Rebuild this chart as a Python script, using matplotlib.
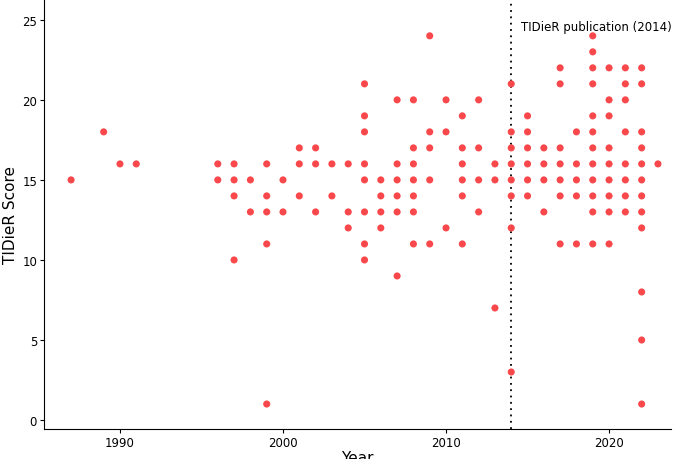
import matplotlib
matplotlib.use("Agg")
import matplotlib.pyplot as plt

data = {
1987:[15],1989:[18],1990:[16],1991:[16],
1996:[16,15],1997:[16,15,14,10],1998:[15,13],1999:[16,14,13,11,1],
2000:[15,13],2001:[17,16,14],2002:[17,16,13],2003:[16,14],2004:[16,13,12],
2005:[21,19,18,16,15,13,11,10],2006:[15,14,13,12],2007:[20,16,15,14,13,9],
2008:[20,17,16,15,14,13,11],2009:[24,18,17,15,11],2010:[20,18,12],
2011:[19,17,16,15,14,11],2012:[20,17,15,13],2013:[16,15,7],
2014:[21,18,17,16,15,14,12,3],2015:[19,18,17,16,15,14],2016:[17,16,15,13],
2017:[22,21,17,16,15,14,11],2018:[18,16,15,14,11],
2019:[24,23,22,21,19,18,17,16,15,14,13,11],2020:[22,20,19,17,16,15,14,13,11],
2021:[22,21,20,18,16,15,14,13],2022:[22,21,18,17,16,15,14,13,12,8,5,1],2023:[16],
}
years = [y for y, v in data.items() for _ in v]
scores = [s for v in data.values() for s in v]

fig = plt.figure(figsize=(6.85, 4.6), dpi=100)
ax = fig.add_axes([44/685, 30/460, 627/685, 430/460])
ax.scatter(years, scores, s=26, color="#F8484B", edgecolors="none", zorder=3)
ax.axvline(2014, color="black", linestyle=(0, (1, 2.5)), linewidth=1.3)
ax.text(2014.6, 24.6, "TIDieR publication (2014)", fontsize=8.5, ha="left", va="center")
ax.set_xlim(1985.34, 2023.8)
ax.set_ylim(-0.56, 26.3)
ax.set_xticks([1990, 2000, 2010, 2020])
ax.set_yticks([0, 5, 10, 15, 20, 25])
for s in ["top", "right"]:
    ax.spines[s].set_visible(False)
ax.tick_params(labelsize=8.5, colors="black", length=3, pad=2)
ax.set_xlabel("Year", fontsize=11, labelpad=1)
ax.set_ylabel("TIDieR Score", fontsize=11, labelpad=3)
fig.savefig("out.png", dpi=100)
